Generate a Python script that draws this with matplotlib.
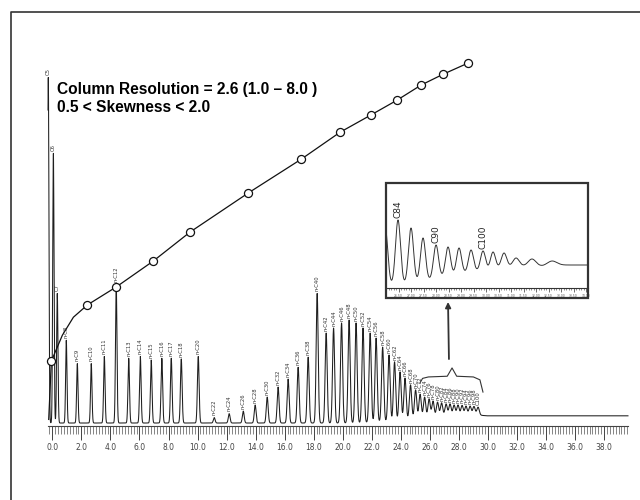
import matplotlib
matplotlib.use('Agg')
import matplotlib.pyplot as plt
import numpy as np
from matplotlib.lines import Line2D
from matplotlib.patches import Rectangle

# n-alkane peaks (retention time in min, top of peak)
peak_labels = ['C5', 'C6', 'C7', 'n-C8', 'n-C9', 'n-C10', 'n-C11', 'n-C12', 'n-C13',
	'n-C14', 'n-C15', 'n-C16', 'n-C17', 'n-C18', 'n-C20', 'n-C22', 'n-C24', 'n-C26',
	'n-C28', 'n-C30', 'n-C32', 'n-C34', 'n-C36', 'n-C38', 'n-C40', 'n-C42', 'n-C44',
	'n-C46', 'n-C48', 'n-C50', 'n-C52', 'n-C54', 'n-C56', 'n-C58', 'n-C60', 'n-C62',
	'n-C64', 'n-C66', 'n-C68', 'n-C70', 'n-C72', 'n-C74', 'n-C76', 'n-C78', 'n-C80',
	'n-C82', 'n-C84', 'n-C86', 'n-C88', 'n-C90', 'n-C92', 'n-C94', 'n-C96', 'n-C98', 'C100']
peak_times = [-0.28, 0.07, 0.34, 0.96, 1.72, 2.68, 3.58, 4.40, 5.26,
	6.06, 6.81, 7.54, 8.19, 8.88, 10.05, 11.15, 12.18, 13.15,
	13.97, 14.80, 15.55, 16.24, 16.93, 17.62, 18.24, 18.86, 19.37,
	19.92, 20.44, 20.92, 21.40, 21.89, 22.30, 22.75, 23.19, 23.57,
	23.95, 24.29, 24.67, 25.02, 25.33, 25.64, 25.95, 26.22, 26.53,
	26.81, 27.12, 27.39, 27.67, 27.94, 28.22, 28.49, 28.77, 29.04, 29.32]
peak_heights = [96.0, 75.0, 36.0, 23.0, 16.5, 16.5, 18.5, 38.5, 18.0,
	18.5, 17.5, 18.0, 18.0, 17.8, 18.5, 1.5, 2.6, 3.3,
	5.0, 7.2, 10.0, 12.2, 15.5, 18.3, 36.0, 25.0, 26.4,
	27.8, 28.6, 27.8, 26.4, 25.0, 23.6, 21.1, 18.9, 17.0,
	14.2, 12.5, 10.6, 9.2, 8.0, 7.2, 6.7, 6.1, 5.8,
	5.6, 5.3, 5.3, 5.0, 5.0, 4.9, 4.7, 4.7, 4.6, 4.4]

# detector baseline drift
baseline_times = [-1.0, 21.0, 23.5, 25.0, 27.0, 29.4, 29.9, 40.0]
baseline_levels = [0.0, 0.0, 0.5, 1.3, 1.9, 2.2, 2.0, 2.0]

# boiling point calibration curve
curve_times = [-0.25, -0.07, 0.69, 1.45, 2.41, 4.40, 6.95, 9.50, 13.49, 17.14,
	19.82, 21.95, 23.74, 25.40, 26.91, 28.63]
curve_heights = [1.0, 17.2, 24.4, 29.4, 32.8, 37.8, 45.0, 53.1, 63.9, 73.3,
	80.8, 85.6, 89.7, 93.9, 96.9, 100.0]
circle_times = [-0.07, 2.41, 4.40, 6.95, 9.50, 13.49, 17.14, 19.82, 21.95, 23.74,
	25.40, 26.91, 28.63]
circle_heights = [17.2, 32.8, 37.8, 45.0, 53.1, 63.9, 73.3, 80.8, 85.6, 89.7,
	93.9, 96.9, 100.0]

xtick_values = np.arange(0, 39, 2)
xtick_labels = ['%.1f' % v for v in xtick_values]

# inset: expanded view of the C84 - C100 region
inset_peak_times = [25.97, 26.48, 27.0, 27.48, 28.0, 28.48, 28.92, 29.4, 29.88,
	30.28, 30.72, 31.2, 31.84, 32.64]
inset_peak_tops = [60, 68, 60, 50, 43, 41, 40, 38, 37, 36, 35, 30, 29, 27]
inset_base_times = [25.5, 26.2, 26.72, 27.24, 27.72, 28.2, 28.68, 29.16, 29.64,
	30.08, 30.56, 30.96, 31.48, 32.28, 32.96, 34.1]
inset_base_levels = [2, 3, 4, 6, 8, 11, 13, 15, 17, 18, 20, 21, 22, 22, 23, 23]
inset_labels = {'C84': 26.48, 'C90': 28.0, 'C100': 29.88}

# bracket under the inset arrow
brace_t = [25.33, 25.5, 25.9, 27.2, 27.53, 27.85, 29.0, 29.45, 29.66]
brace_h = [11.2, 12.4, 12.8, 13.0, 15.3, 13.0, 12.8, 12.0, 8.6]


def trace(t, times, tops, base_t, base_v, width):
	# sum of gaussian peaks sitting on a drifting baseline
	base = np.interp(t, base_t, base_v)
	y = base.copy()
	for tc, top in zip(times, tops):
		amp = top - np.interp(tc, base_t, base_v)
		s = width(tc)
		y += amp*np.exp(-(t - tc)**2/(2*s*s))
	return y


fig = plt.figure(figsize=(6.4, 5.0), dpi=100)
W, H = 640.0, 500.0

# main chromatogram, bottom spine is the time ruler
ax = fig.add_axes([48/W, 1 - 426/H, (628 - 48)/W, (426 - 30)/H])
ax.set_xlim(-0.3, 39.65)
ax.set_ylim(-0.83, 109.2)

t = np.arange(-0.3, 39.65, 0.004)
sig = trace(t, peak_times, peak_heights, baseline_times, baseline_levels,
	lambda tc: 0.045 + 0.0013*max(tc, 0))
ax.plot(t, sig, color='#1e1e1e', lw=0.75, clip_on=False)

for lab, tc, h in zip(peak_labels, peak_times, peak_heights):
	ax.text(tc, h + 0.6, lab, rotation=90, fontsize=3.8, ha='center', va='bottom',
		color='#333333')

ax.plot(curve_times, curve_heights, color='#111111', lw=0.9, zorder=4)
ax.plot(circle_times, circle_heights, 'o', ms=5.8, mfc='white', mec='#111111',
	mew=0.9, zorder=5, clip_on=False)

ax.plot(brace_t, brace_h, color='#333333', lw=0.8)
ax.annotate('', xy=(27.25, 34.4), xytext=(27.32, 17.0),
	arrowprops=dict(arrowstyle='-|>', lw=1.3, color='#333333', mutation_scale=8))

for side in ['top', 'right', 'left']:
	ax.spines[side].set_visible(False)
ax.spines['bottom'].set_color('#444444')
ax.set_yticks([])
ax.set_xticks(xtick_values)
ax.set_xticklabels(xtick_labels)
ax.set_xticks(np.arange(-0.2, 39.61, 0.2), minor=True)
ax.tick_params(axis='x', which='major', length=10, width=0.7, color='#444444',
	labelsize=5.5, labelcolor='#444444', pad=2)
ax.tick_params(axis='x', which='minor', length=6, width=0.5, color='#555555')
ax.patch.set_alpha(0)

# inset
fig.add_artist(Rectangle((386/W, 1 - 298/H), 202/W, 115/H, transform=fig.transFigure,
	fill=False, lw=1.6, ec='#333333'))
axi = fig.add_axes([386/W, 1 - 288/H, 202/W, 103/H])
axi.set_xlim(26.0, 34.08)
axi.set_ylim(0, 103)
ti = np.arange(26.0, 34.08, 0.004)
sigi = trace(ti, inset_peak_times, inset_peak_tops, inset_base_times, inset_base_levels,
	lambda tc: 0.1 + 0.04*max(tc - 30.5, 0))
axi.plot(ti, sigi, color='#333333', lw=0.7)
for lab, tc in inset_labels.items():
	top = np.interp(tc, ti, sigi)
	axi.text(tc - 0.02, top + 2, lab, rotation=90, fontsize=6.5, ha='center',
		va='bottom', color='#222222')
for side in ['top', 'right', 'left']:
	axi.spines[side].set_visible(False)
axi.spines['bottom'].set_color('#333333')
axi.set_yticks([])
inset_ticks = np.arange(26.5, 34.01, 0.5)
axi.set_xticks(inset_ticks)
axi.set_xticklabels(['%.2f' % v for v in inset_ticks])
axi.set_xticks(np.arange(26.1, 34.05, 0.1), minor=True)
axi.tick_params(axis='x', which='major', length=3, width=0.5, labelsize=2.2,
	pad=1, color='#333333', labelcolor='#555555')
axi.tick_params(axis='x', which='minor', length=1.5, width=0.4, color='#333333')
axi.patch.set_alpha(0)

# page frame (top and left edges of the scanned page)
fig.add_artist(Line2D([10.5/W, 10.5/W, 1.0], [0.0, 1 - 11.7/H, 1 - 11.7/H],
	transform=fig.transFigure, color='#333333', lw=1.2))

fig.text(57/W, 1 - 94/H, 'Column Resolution = 2.6 (1.0 \u2013 8.0 )', fontsize=11.2,
	fontweight='bold', family='Liberation Sans', va='baseline')
fig.text(57/W, 1 - 112/H, '0.5 < Skewness < 2.0', fontsize=11.2,
	fontweight='bold', family='Liberation Sans', va='baseline')

fig.savefig('out.png', dpi=100)
